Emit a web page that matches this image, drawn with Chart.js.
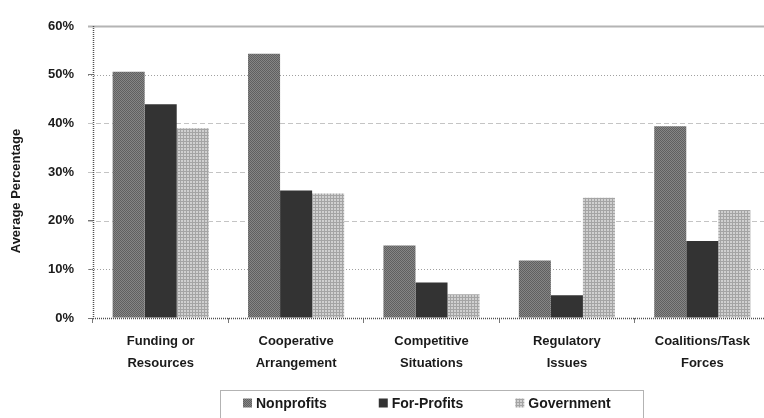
<html>
<head>
<script src="https://cdn.jsdelivr.net/npm/chart.js@4.4.0/dist/chart.umd.min.js"></script>
<style>
  html, body { margin: 0; height: 100%; overflow: hidden; background: #fff; }
  .wrapper { width: 772px; height: 418px; }
</style>
</head>
<body>
<div class="wrapper">
  <canvas id="myChart" width="772" height="418"></canvas>
</div>
<script>
const categories = [
  ["Funding or", "Resources"],
  ["Cooperative", "Arrangement"],
  ["Competitive", "Situations"],
  ["Regulatory", "Issues"],
  ["Coalitions/Task", "Forces"]
];
const seriesNames = ["Nonprofits", "For-Profits", "Government"];
const nonprofits = [50.6, 54.3, 14.9, 11.8, 39.4];
const forProfits = [43.9, 26.2, 7.3, 4.7, 15.8];
const government = [39.0, 25.6, 4.9, 24.7, 22.2];
const yTicks = [0, 10, 20, 30, 40, 50, 60];
const yTitle = "Average Percentage";

const FONT = "'Liberation Sans', Arial, sans-serif";
const INK = "#1a1a1a";

// little repeating tiles for the halftone-ish bar fills
function makePattern(size, paint) {
  const c = document.createElement("canvas");
  c.width = size; c.height = size;
  paint(c.getContext("2d"));
  return c.getContext("2d").createPattern(c, "repeat");
}
const npFill = makePattern(2, (g) => {
  g.fillStyle = "#868686"; g.fillRect(0, 0, 2, 2);
  g.fillStyle = "#606060"; g.fillRect(0, 0, 1, 1); g.fillRect(1, 1, 1, 1);
});
const govFill = makePattern(3, (g) => {
  g.fillStyle = "#d0d0d0"; g.fillRect(0, 0, 3, 3);
  g.fillStyle = "#a4a4a4"; g.fillRect(0, 0, 3, 1); g.fillRect(0, 0, 1, 3);
});

const decor = {
  id: "decor",
  // grid lines: solid on top, dotted at 10/50, dashed in between
  beforeDatasetsDraw(chart) {
    const { ctx, chartArea } = chart;
    const y = chart.scales.y;
    ctx.save();
    yTicks.forEach((v) => {
      if (v === 0) return;
      const py = Math.round(y.getPixelForValue(v)) + 0.5;
      ctx.beginPath();
      if (v === 60) { ctx.setLineDash([]); ctx.strokeStyle = "#b4b4b4"; ctx.lineWidth = 2; }
      else if (v === 50 || v === 10) { ctx.setLineDash([1, 2]); ctx.strokeStyle = "#a0a0a0"; ctx.lineWidth = 1; }
      else { ctx.setLineDash([5, 3]); ctx.strokeStyle = "#c4c4c4"; ctx.lineWidth = 1; }
      ctx.moveTo(chartArea.left - 5, py);
      ctx.lineTo(chartArea.right, py);
      ctx.stroke();
    });
    ctx.restore();
  },
  // dotted axes
  afterDatasetsDraw(chart) {
    const { ctx, chartArea } = chart;
    const y0 = Math.round(chart.scales.y.getPixelForValue(0)) + 0.5;
    const x0 = Math.round(chartArea.left) + 0.5;
    ctx.save();
    ctx.strokeStyle = "#505050";
    ctx.lineWidth = 1.5;
    ctx.setLineDash([1, 1]);
    ctx.beginPath();
    ctx.moveTo(x0, chartArea.top);
    ctx.lineTo(x0, y0);
    ctx.lineTo(chartArea.right, y0);
    ctx.stroke();
    ctx.restore();
  },
  afterDraw(chart) {
    const { ctx, chartArea } = chart;
    ctx.save();

    // y axis title
    ctx.fillStyle = INK;
    ctx.font = "bold 13px " + FONT;
    ctx.textAlign = "center";
    ctx.textBaseline = "middle";
    ctx.translate(16, (chartArea.top + chartArea.bottom) / 2 + 19);
    ctx.rotate(-Math.PI / 2);
    ctx.fillText(yTitle, 0, 0);
    ctx.setTransform(1, 0, 0, 1, 0, 0);

    // legend in a dotted frame, centred under the plot
    const sets = chart.data.datasets;
    ctx.font = "bold 14px " + FONT;
    const box = 9, gapText = 4, gapItem = 52, padL = 23, padR = 32;
    const widths = sets.map((d) => box + gapText + ctx.measureText(d.label).width);
    const total = widths.reduce((a, b) => a + b, 0) + gapItem * (sets.length - 1);
    const frameW = total + padL + padR;
    const l = Math.round((chartArea.left + chartArea.right) / 2 - frameW / 2);
    const cy = 403;
    let x = l + padL;
    ctx.textAlign = "left";
    sets.forEach((d, i) => {
      ctx.fillStyle = d.backgroundColor;
      ctx.fillRect(x, cy - box / 2, box, box);
      ctx.fillStyle = INK;
      ctx.fillText(d.label, x + box + gapText, cy + 1);
      x += widths[i] + gapItem;
    });
    ctx.strokeStyle = "#666";
    ctx.lineWidth = 1;
    ctx.setLineDash([1, 1]);
    ctx.strokeRect(l + 0.5, 390.5, Math.round(frameW), 40);
    ctx.restore();
  }
};

const config = {
  type: "bar",
  data: {
    labels: categories,
    datasets: [
      { label: seriesNames[0], data: nonprofits, backgroundColor: npFill },
      { label: seriesNames[1], data: forProfits, backgroundColor: "#333333" },
      { label: seriesNames[2], data: government, backgroundColor: govFill }
    ]
  },
  options: {
    responsive: false,
    animation: false,
    layout: { padding: { top: 26, right: 2, left: 4, bottom: 38 } },
    datasets: {
      bar: { categoryPercentage: 0.71, barPercentage: 1.0 }
    },
    plugins: {
      legend: { display: false },
      tooltip: { enabled: false }
    },
    scales: {
      x: {
        grid: { drawOnChartArea: false, tickLength: 5, tickColor: "#777", offset: true },
        border: { display: false },
        ticks: {
          color: INK,
          padding: 8,
          font: { family: FONT, size: 13, weight: "bold", lineHeight: 1.65 },
          maxRotation: 0
        },
        afterFit(scale) { scale.height = 62; }
      },
      y: {
        min: 0,
        max: 60,
        grid: { drawOnChartArea: false, tickLength: 5, tickColor: "#777" },
        border: { display: false },
        ticks: {
          stepSize: 10,
          padding: 14,
          color: INK,
          font: { family: FONT, size: 13, weight: "bold" },
          callback: (v) => v + "%"
        },
        afterFit(scale) { scale.width = 89; }
      }
    }
  },
  plugins: [decor]
};

new Chart(document.getElementById("myChart"), config);
</script>
</body>
</html>
